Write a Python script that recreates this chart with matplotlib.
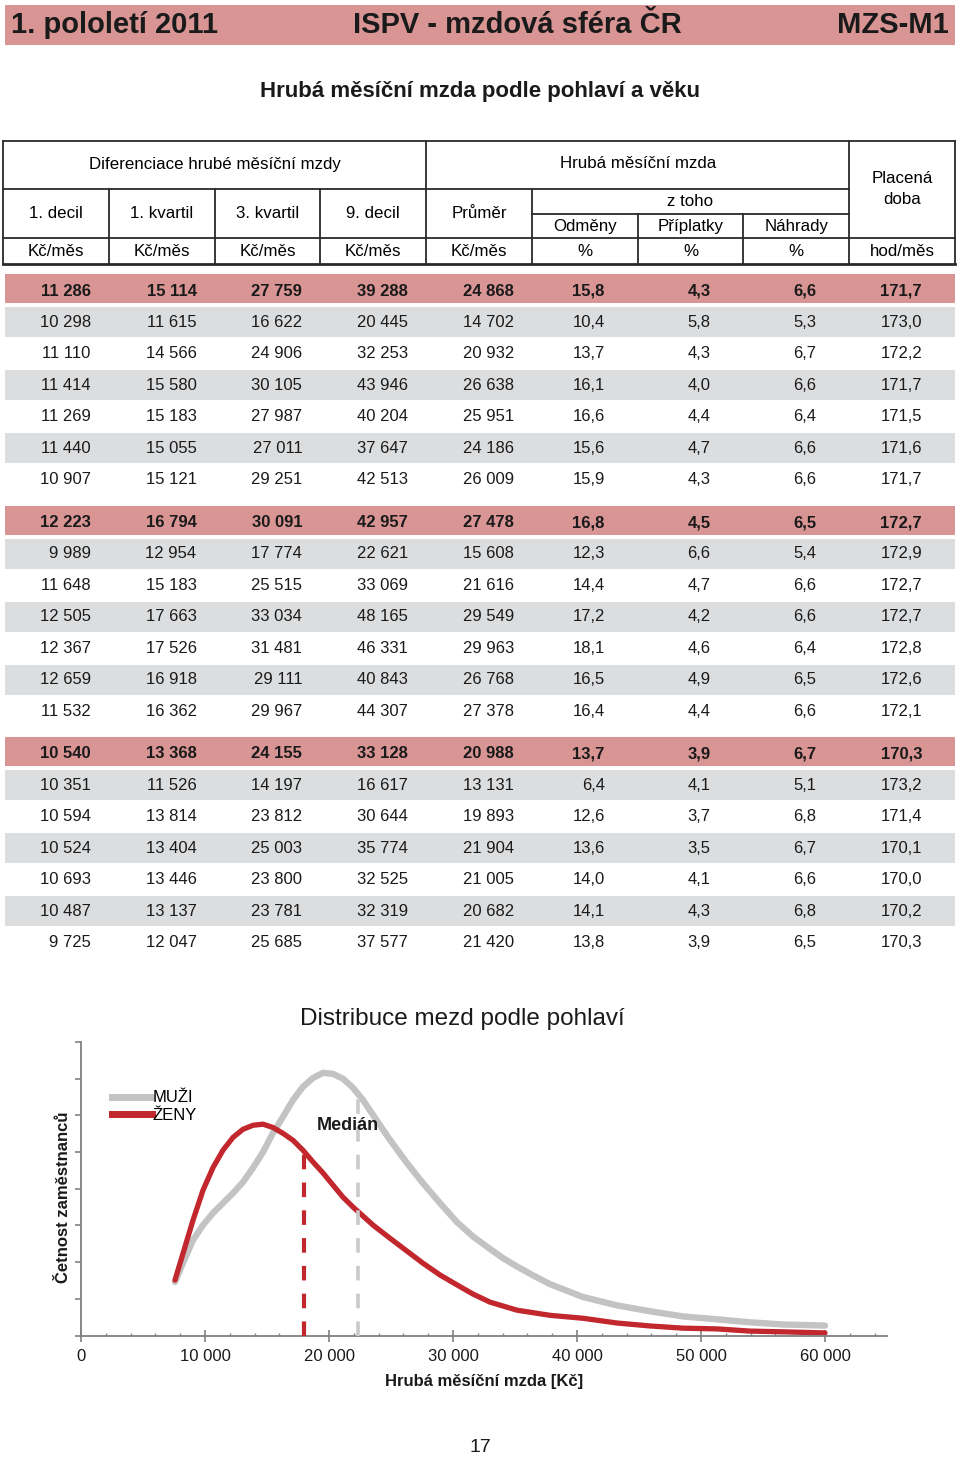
import numpy as np
import matplotlib
matplotlib.use("Agg")
import matplotlib.pyplot as plt
from matplotlib.patches import Rectangle
from matplotlib.lines import Line2D

plt.rcParams['font.family'] = ['Liberation Sans', 'DejaVu Sans']
plt.rcParams['lines.scale_dashes'] = False

# ---------------- data ----------------
decil1 = [11286, 10298, 11110, 11414, 11269, 11440, 10907,
          12223, 9989, 11648, 12505, 12367, 12659, 11532,
          10540, 10351, 10594, 10524, 10693, 10487, 9725]
kvartil1 = [15114, 11615, 14566, 15580, 15183, 15055, 15121,
            16794, 12954, 15183, 17663, 17526, 16918, 16362,
            13368, 11526, 13814, 13404, 13446, 13137, 12047]
kvartil3 = [27759, 16622, 24906, 30105, 27987, 27011, 29251,
            30091, 17774, 25515, 33034, 31481, 29111, 29967,
            24155, 14197, 23812, 25003, 23800, 23781, 25685]
decil9 = [39288, 20445, 32253, 43946, 40204, 37647, 42513,
          42957, 22621, 33069, 48165, 46331, 40843, 44307,
          33128, 16617, 30644, 35774, 32525, 32319, 37577]
prumer = [24868, 14702, 20932, 26638, 25951, 24186, 26009,
          27478, 15608, 21616, 29549, 29963, 26768, 27378,
          20988, 13131, 19893, 21904, 21005, 20682, 21420]
odmeny = [15.8, 10.4, 13.7, 16.1, 16.6, 15.6, 15.9,
          16.8, 12.3, 14.4, 17.2, 18.1, 16.5, 16.4,
          13.7, 6.4, 12.6, 13.6, 14.0, 14.1, 13.8]
priplatky = [4.3, 5.8, 4.3, 4.0, 4.4, 4.7, 4.3,
             4.5, 6.6, 4.7, 4.2, 4.6, 4.9, 4.4,
             3.9, 4.1, 3.7, 3.5, 4.1, 4.3, 3.9]
nahrady = [6.6, 5.3, 6.7, 6.6, 6.4, 6.6, 6.6,
           6.5, 5.4, 6.6, 6.6, 6.4, 6.5, 6.6,
           6.7, 5.1, 6.8, 6.7, 6.6, 6.8, 6.5]
doba = [171.7, 173.0, 172.2, 171.7, 171.5, 171.6, 171.7,
        172.7, 172.9, 172.7, 172.7, 172.8, 172.6, 172.1,
        170.3, 173.2, 171.4, 170.1, 170.0, 170.2, 170.3]

header_top = ["Diferenciace hrubé měsíční mzdy", "Hrubá měsíční mzda", "Placená\ndoba"]
header_cols = ["1. decil", "1. kvartil", "3. kvartil", "9. decil", "Průměr"]
header_sub = ["Odměny", "Příplatky", "Náhrady"]
units = ["Kč/měs", "Kč/měs", "Kč/měs", "Kč/měs", "Kč/měs", "%", "%", "%", "hod/měs"]

# distribution curves (x in Kč, y relative frequency)
muzi_x = [7580, 8230, 9030, 9840, 10650, 11450, 12260, 13060, 13870, 14680, 15480,
          16290, 17100, 17900, 18710, 19520, 20320, 21130, 21940, 22740, 23550, 24920,
          26290, 27580, 28950, 30320, 31610, 32980, 34030, 35160, 36450, 37820, 40480,
          43230, 45890, 48550, 51290, 53950, 56610, 60000]
muzi_y = [1.46, 1.98, 2.60, 3.01, 3.34, 3.61, 3.88, 4.18, 4.57, 5.00, 5.52,
          5.96, 6.42, 6.78, 7.02, 7.16, 7.13, 7.00, 6.75, 6.42, 6.01, 5.33,
          4.70, 4.15, 3.61, 3.09, 2.70, 2.36, 2.11, 1.88, 1.64, 1.40, 1.05,
          0.82, 0.66, 0.52, 0.44, 0.36, 0.30, 0.27]
zeny_x = [7580, 8230, 9030, 9840, 10650, 11450, 12260, 13060, 13870, 14680, 15480,
          16290, 17100, 17900, 18710, 19520, 20320, 21130, 21940, 23550, 24920, 26290,
          27580, 28950, 30320, 31610, 32980, 35160, 37820, 40480, 43230, 45890, 48550,
          51290, 53950, 56610, 60000]
zeny_y = [1.51, 2.24, 3.14, 3.96, 4.58, 5.05, 5.40, 5.62, 5.73, 5.76, 5.67,
          5.51, 5.32, 5.05, 4.73, 4.43, 4.10, 3.77, 3.50, 3.01, 2.65, 2.30,
          1.97, 1.65, 1.38, 1.13, 0.91, 0.69, 0.55, 0.47, 0.34, 0.26, 0.20,
          0.18, 0.12, 0.10, 0.07]
median_zeny, median_zeny_top = 17950, 5.05
median_muzi, median_muzi_top = 22300, 6.55
x_ticks = [0, 10000, 20000, 30000, 40000, 50000, 60000]

PINK = '#D99594'
GRAY_BAND = '#DCDDDF'
LINE = '#2a2a2a'
RED = '#C1272D'
LGRAY = '#C3C3C3'

def fmt_int(v):
    return f"{v:,}".replace(",", " ")

def fmt_dec(v):
    return f"{v:.1f}".replace(".", ",")

# ---------------- figure ----------------
fig = plt.figure(figsize=(9.6, 14.57), dpi=100)
bg = fig.add_axes([0, 0, 1, 1])
bg.set_xlim(0, 960)
bg.set_ylim(1457, 0)
bg.axis('off')

# top banner
bg.add_patch(Rectangle((5, 5), 950, 40, color=PINK, lw=0))
bg.text(11, 25, "1. pololetí 2011", fontsize=21, fontweight='bold', ha='left', va='center', color='#1a1a1a')
bg.text(517, 25, "ISPV - mzdová sféra ČR", fontsize=21, fontweight='bold', ha='center', va='center', color='#1a1a1a')
bg.text(949, 25, "MZS-M1", fontsize=21, fontweight='bold', ha='right', va='center', color='#1a1a1a')

bg.text(480, 91, "Hrubá měsíční mzda podle pohlaví a věku", fontsize=16, fontweight='bold',
        ha='center', va='center', color='#1a1a1a')

# table header grid
edges = np.linspace(3, 955, 10)
hl = dict(color=LINE, lw=1.3)
bg.plot([3, 955], [141, 141], **hl)
bg.plot([3, 849.2], [189, 189], **hl)
bg.plot([edges[5], edges[8]], [214, 214], **hl)
bg.plot([3, 955], [238, 238], **hl)
bg.plot([3, 955], [264, 264], color=LINE, lw=2.0)
for i, e in enumerate(edges):
    if i in (0, 4, 8, 9):
        bg.plot([e, e], [141, 264], **hl)
    elif i in (1, 2, 3, 5):
        bg.plot([e, e], [189, 264], **hl)
    else:
        bg.plot([e, e], [214, 264], **hl)

hfs = 12.2
bg.text((edges[0] + edges[4]) / 2, 164, header_top[0], fontsize=hfs, ha='center', va='center')
bg.text((edges[4] + edges[8]) / 2, 164, header_top[1], fontsize=hfs, ha='center', va='center')
bg.text((edges[8] + edges[9]) / 2, 189, header_top[2], fontsize=hfs, ha='center', va='center', linespacing=1.45)
for i, t in enumerate(header_cols):
    bg.text((edges[i] + edges[i + 1]) / 2, 213, t, fontsize=hfs, ha='center', va='center')
bg.text((edges[5] + edges[8]) / 2, 201, "z toho", fontsize=hfs, ha='center', va='center')
for i, t in enumerate(header_sub):
    bg.text((edges[5 + i] + edges[6 + i]) / 2, 227, t, fontsize=hfs, ha='center', va='center')
for i, t in enumerate(units):
    bg.text((edges[i] + edges[i + 1]) / 2, 252 if i == 8 else 251, t, fontsize=hfs, ha='center', va='center')

# data rows
columns = [decil1, kvartil1, kvartil3, decil9, prumer, odmeny, priplatky, nahrady, doba]
formats = [fmt_int] * 5 + [fmt_dec] * 4
n_rows = len(decil1)
for r in range(n_rows):
    g, k = divmod(r, 7)
    yc = 291 + g * 231.5 + k * 31.45
    if k == 0:
        bg.add_patch(Rectangle((5, yc - 17), 950, 29, color=PINK, lw=0))
    elif k % 2 == 1:
        bg.add_patch(Rectangle((5, yc - 15), 950, 30, color=GRAY_BAND, lw=0))
    for c, (col, f) in enumerate(zip(columns, formats)):
        xr = edges[c + 1] - (18 if c < 5 else 33)
        bg.text(xr, yc, f(col[r]), fontsize=12, ha='right', va='center',
                fontweight='bold' if k == 0 else 'normal', color='#1a1a1a')

# ---------------- chart ----------------
fig.text(462 / 960, 1 - 1019 / 1457, "Distribuce mezd podle pohlaví", fontsize=17.5,
         ha='center', va='center', color='#1a1a1a')

ax = fig.add_axes([81 / 960, (1457 - 1335.5) / 1457, (887 - 81) / 960, (1335.5 - 1042) / 1457])
ax.set_xlim(0, 65000)
ax.set_ylim(0, 8)
ax.patch.set_alpha(0)
for s in ('top', 'right'):
    ax.spines[s].set_visible(False)
for s in ('left', 'bottom'):
    ax.spines[s].set_color('#808080')
    ax.spines[s].set_linewidth(1.3)

ax.plot(muzi_x, muzi_y, color=LGRAY, lw=4.6, solid_capstyle='round', solid_joinstyle='round',
        label='MUŽI', zorder=2)
ax.plot(zeny_x, zeny_y, color=RED, lw=3.8, solid_capstyle='round', solid_joinstyle='round',
        label='ŽENY', zorder=2.5)
ax.plot([median_zeny, median_zeny], [0, median_zeny_top], color=RED, lw=3.0,
        dashes=(10.5, 9.5), zorder=3)
ax.plot([median_muzi, median_muzi], [0, median_muzi_top], color='#CACACA', lw=2.6,
        dashes=(10.5, 9.5), zorder=3)
ax.text(19000, 5.72, "Medián", fontsize=13, fontweight='bold', ha='left', va='center', color='#1a1a1a')

ax.set_xticks(x_ticks)
ax.set_xticklabels([fmt_int(v) for v in x_ticks], fontsize=12, color='#1a1a1a')
ax.set_xticks(np.arange(0, 65000, 2000), minor=True)
ax.tick_params(axis='x', which='major', direction='inout', length=8, width=1.2, color='#808080', pad=6)
ax.tick_params(axis='x', which='minor', direction='in', length=2.5, width=1.0, color='#808080')
ax.set_yticks(np.arange(0, 9, 1))
ax.set_yticklabels([])
ax.tick_params(axis='y', which='major', direction='out', length=4, width=1.2, color='#808080')

ax.set_xlabel("Hrubá měsíční mzda [Kč]", fontsize=12, fontweight='bold', labelpad=7, color='#1a1a1a')
ax.set_ylabel("Četnost zaměstnanců", fontsize=12, fontweight='bold', color='#1a1a1a')
ax.yaxis.set_label_coords(-0.012, 0.47)

handles = [Line2D([], [], color=LGRAY, lw=5), Line2D([], [], color=RED, lw=5)]
ax.legend(handles, ['MUŽI', 'ŽENY'], loc='upper left', bbox_to_anchor=(0.038, 0.835),
          frameon=False, fontsize=12, handlelength=2.4, handletextpad=0.05,
          labelspacing=0.17, borderpad=0, borderaxespad=0)

fig.text(480 / 960, 1 - 1447 / 1457, "17", fontsize=14, ha='center', va='center', color='#1a1a1a')

fig.savefig("out.png", dpi=100)
